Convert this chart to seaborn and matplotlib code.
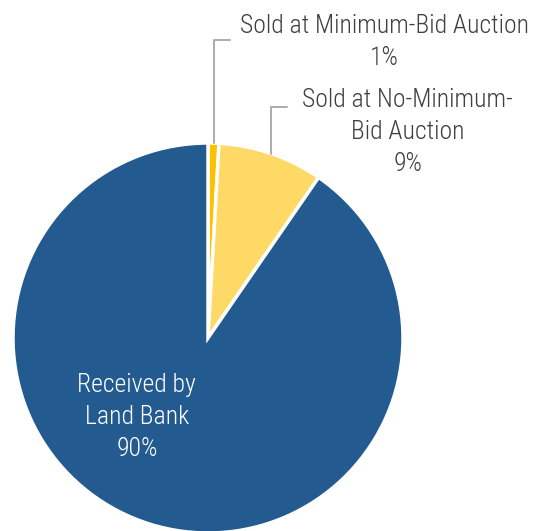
"""Pie chart of property outcomes"""

import numpy as np
import matplotlib.pyplot as plt
import seaborn as sns

# data
categories = ['Sold at Minimum-Bid Auction', 'Sold at No-Minimum-\nBid Auction',
              'Received by\nLand Bank']
shares = [0.9, 8.7, 90.4]
pct_labels = ['1%', '9%', '90%']
colors = ['#FFC000', '#FFD966', '#235B91']

sns.set_theme(style='white')
plt.rcParams['font.family'] = ['Roboto Condensed', 'DejaVu Sans']

fig = plt.figure(figsize=(5.34, 5.31), dpi=100)
W, H = 534, 531
cx, cy, r = 208, 338, 195
ax = fig.add_axes([(cx - r) / W, (H - cy - r) / H, 2 * r / W, 2 * r / H])

wedges, _ = ax.pie(shares, colors=colors, startangle=90, counterclock=False,
                   radius=1, wedgeprops=dict(edgecolor='white', linewidth=2.5))
ax.set_xlim(-1, 1)
ax.set_ylim(-1, 1)
ax.axis('off')

# leader lines + outside labels for the small slices
elbow_y = [1.528, 1.185]
line_end_x = [0.113, 0.405]
text_x = [0.903, 1.025]
text_top = [1.66, 1.282]
for i in range(2):
    w = wedges[i]
    ang = np.deg2rad((w.theta1 + w.theta2) / 2)
    x0, y0 = np.cos(ang), np.sin(ang)
    ax.plot([x0, x0, line_end_x[i]], [y0, elbow_y[i], elbow_y[i]],
            color='#A6A6A6', lw=1.3, clip_on=False)
    ax.text(text_x[i], text_top[i], categories[i] + '\n' + pct_labels[i],
            ha='center', va='top', fontsize=18.5, color='#404040',
            fontweight='light', linespacing=1.42, clip_on=False)

# label inside the big slice
ax.text(-0.365, -0.405, categories[2] + '\n' + pct_labels[2], ha='center',
        va='center', fontsize=18.5, color='white', fontweight='light',
        linespacing=1.42)

fig.savefig('out.png', dpi=100)
